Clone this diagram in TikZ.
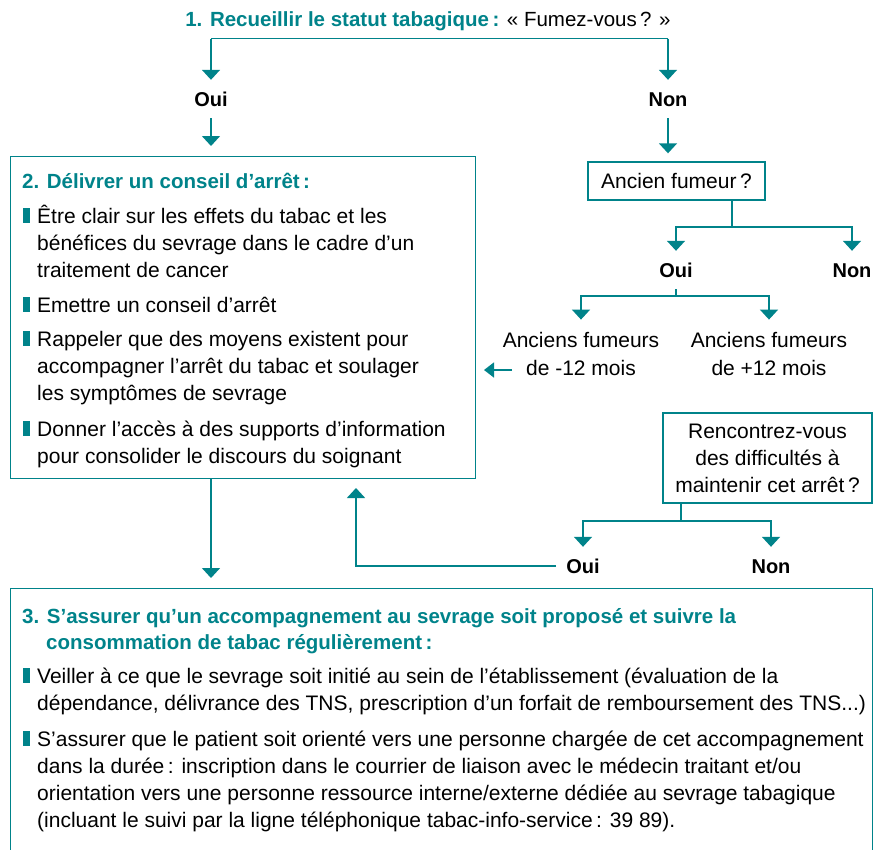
\documentclass[tikz,border=0pt]{standalone}
\usepackage{fontspec}
\setmainfont{Liberation Sans}
\usetikzlibrary{arrows.meta}
\definecolor{tealc}{HTML}{00838A}
\newcommand\blt{\llap{\textcolor{tealc}{\rule{7pt}{15pt}}\hspace{7pt}}}
\begin{document}
\begin{tikzpicture}[x=1pt,y=-1pt,
  ln/.style={draw=tealc,line width=1.6pt},
  arr/.style={ln,-{Triangle[width=18pt,length=10pt]}},
  box/.style={draw=tealc,line width=1.4pt,inner sep=0pt},
  lbl/.style={font=\fontsize{20}{24}\selectfont\bfseries,text height=14pt,text depth=0pt,inner ysep=12pt,inner xsep=10pt,anchor=base},
  txt/.style={font=\fontsize{21}{27}\selectfont,align=left,inner sep=0pt,anchor=base west},
  ctxt/.style={font=\fontsize{21}{28}\selectfont,align=center,inner xsep=0pt,inner ysep=12pt,anchor=base},
  hd/.style={font=\fontsize{20.5}{26}\selectfont\bfseries,text=tealc,align=left,inner sep=0pt,anchor=base west}
]
\useasboundingbox (0,0) rectangle (873,849);
% title (multi-line nodes are placed by the baseline of their last line)
\node[font=\fontsize{20.5}{24}\selectfont,anchor=base,inner sep=0pt] (t1) at (428,26)
  {\textcolor{tealc}{\bfseries 1. Recueillir le statut tabagique\,:} « Fumez-vous\,? »};
\coordinate (jl) at (211,38.5);
\coordinate (jr) at (668,38.5);
\node[lbl] (oui1) at (211,106) {Oui};
\node[lbl] (non1) at (668,106) {Non};
\draw[ln] (jl) -- (jr);
\draw[arr] (jl) -- (oui1.north);
\draw[arr] (jr) -- (non1.north);
% box 2
\node[box,anchor=north west,minimum width=465.5pt,minimum height=322.5pt] (b2) at (9.5,155.5) {};
\draw[arr,shorten >=9.5pt] (oui1.south) -- (oui1.south |- b2.north);
\node[hd] (h2) at (22,188) {2. Délivrer un conseil d’arrêt\,:};
\node[txt] (p21) at (37,277) {\blt Être clair sur les effets du tabac et les\\bénéfices du sevrage dans le cadre d’un\\traitement de cancer};
\node[txt] (p22) at (37,312) {\blt Emettre un conseil d’arrêt};
\node[txt] (p23) at (37,400) {\blt Rappeler que des moyens existent pour\\accompagner l’arrêt du tabac et soulager\\les symptômes de sevrage};
\node[txt] (p24) at (37,463) {\blt Donner l’accès à des supports d’information\\pour consolider le discours du soignant};
% ancien fumeur
\node[box,minimum width=177pt,minimum height=38pt,font=\fontsize{21}{27}\selectfont] (af) at (676.5,181) {Ancien fumeur\,?};
\draw[arr,shorten >=8pt] (non1.south) -- (non1.south |- af.north);
\coordinate (s2) at (732,227);
\node[lbl] (oui2) at (676,277) {Oui};
\node[lbl] (non2) at (852,277) {Non};
\draw[ln] (af.south -| s2) -- (s2);
\draw[arr] (s2) -| (oui2.north);
\draw[arr] (s2) -| (non2.north);
\coordinate (s3) at (676,296);
\node[ctxt] (a12) at (581,375) {Anciens fumeurs\\de -12 mois};
\node[ctxt] (a13) at (769,375) {Anciens fumeurs\\de +12 mois};
\draw[ln] (oui2.south) -- (s3);
\draw[arr] (s3) -| (a12.north);
\draw[arr] (s3) -| (a13.north);
\coordinate (la1) at (512,370);
\coordinate (la2) at (484,370);
\draw[ln,-{Triangle[width=15pt,length=10pt]}] (la1) -- (la2);
% rencontrez
\node[box,minimum width=209pt,minimum height=90pt,align=center,font=\fontsize{21}{27}\selectfont] (rc) at (767.5,458) {Rencontrez-vous\\des difficultés à\\maintenir cet arrêt\,?};
\coordinate (s4) at (681,521);
\node[lbl] (oui3) at (583,573) {Oui};
\node[lbl] (non3) at (771,573) {Non};
\draw[ln] (rc.south -| s4) -- (s4);
\draw[arr] (s4) -| (oui3.north);
\draw[arr] (s4) -| (non3.north);
% box 3
\node[box,anchor=north west,minimum width=862pt,minimum height=300pt] (b3) at (10,588) {};
\coordinate (back) at (356,478);
\draw[arr,shorten >=10pt] (oui3.west) -| (back);
\draw[arr,shorten >=10pt] (b2.south -| oui1) -- (b3.north -| oui1);
\node[hd] (h3) at (22,649) {3. S’assurer qu’un accompagnement au sevrage soit proposé et suivre la\\\hspace*{24pt}consommation de tabac régulièrement\,:};
\node[txt] (p31) at (37,710) {\blt Veiller à ce que le sevrage soit initié au sein de l’établissement (évaluation de la\\dépendance, délivrance des TNS, prescription d’un forfait de remboursement des TNS...)};
\node[txt] (p32) at (37,827) {\blt S’assurer que le patient soit orienté vers une personne chargée de cet accompagnement\\dans la durée\,: inscription dans le courrier de liaison avec le médecin traitant et/ou\\orientation vers une personne ressource interne/externe dédiée au sevrage tabagique\\(incluant le suivi par la ligne téléphonique tabac-info-service\,: 39 89).};
\end{tikzpicture}
\end{document}
